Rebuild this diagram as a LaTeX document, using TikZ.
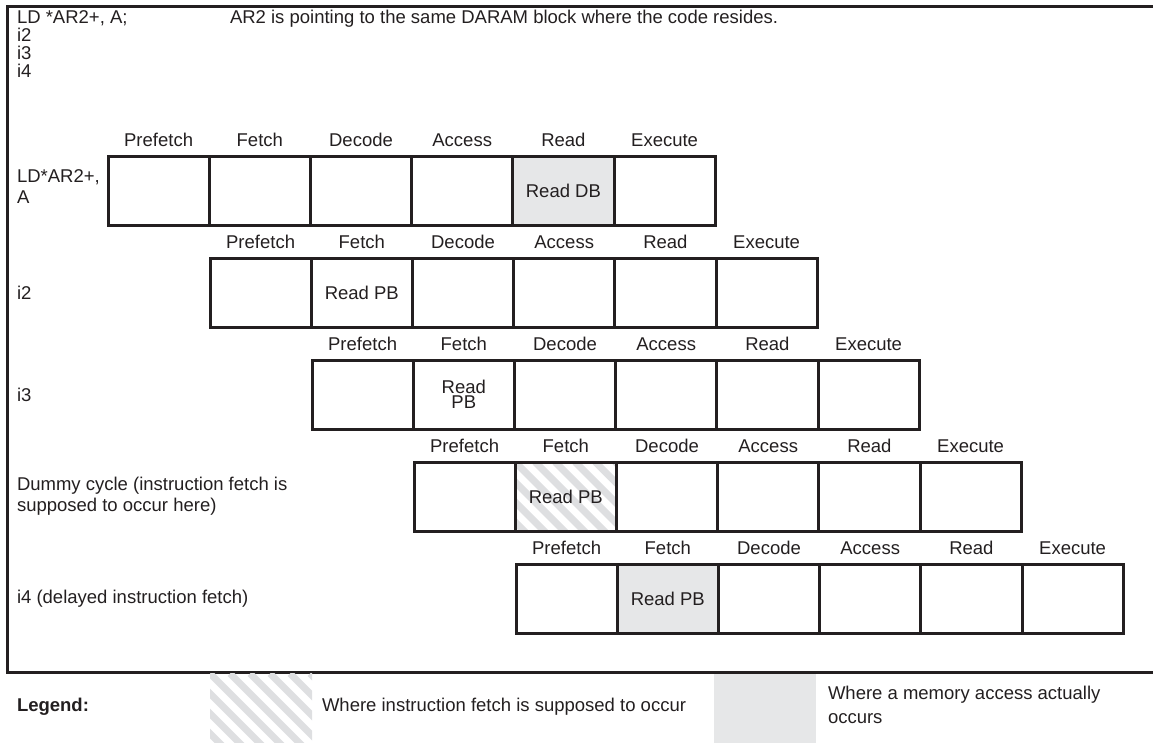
\documentclass[tikz,border=0pt]{standalone}
\usepackage{fontspec}
\setmainfont{Liberation Sans}
\usetikzlibrary{calc}
\definecolor{ink}{HTML}{231F20}
\definecolor{cellgray}{HTML}{E6E7E8}
\definecolor{hatchc}{HTML}{DEDFE1}
\begin{document}
\begin{tikzpicture}[x=1pt,y=-1pt,
  every node/.style={font=\fontsize{18.5}{21}\selectfont, text=ink, inner sep=0pt, outer sep=0pt},
  cell/.style={draw=ink, line width=3pt, minimum width=101.2pt, minimum height=69pt, anchor=north west, align=center},
  plaincell/.style={},
  tightcell/.style={font=\fontsize{18.5}{14.5}\selectfont},
  graycell/.style={fill=cellgray},
  hatchfill/.style={path picture={\foreach \q in {-140,-120,...,140}{\draw[hatchc, line width=7pt] ([xshift=\q pt]path picture bounding box.north west) -- ++(140,140);}}},
  hatchcell/.style={hatchfill},
  head/.style={anchor=base},
  lab/.style={anchor=west, align=left},
  frame/.style={draw=ink, line width=3pt}
]
\useasboundingbox (0,0) rectangle (1153,742);
% frame
\draw[frame] (1160,6) -- (7,6) -- (7,672) -- (1160,672);
% top text
\node[anchor=base west] (t1) at (17,23.5) {LD *AR2+, A;};
\node[anchor=base west] (t2) at (17,41.5) {i2};
\node[anchor=base west] (t3) at (17,59.5) {i3};
\node[anchor=base west] (t4) at (17,77.5) {i4};
\node[anchor=base west] (note) at (230,23.5) {AR2 is pointing to the same DARAM block where the code resides.};
% pipeline rows
\foreach \r/\s/\sty/\txt in {1/5/graycell/Read DB, 2/2/plaincell/Read PB, 3/2/tightcell/{Read\\PB}, 4/2/hatchcell/Read PB, 5/2/graycell/Read PB}{
  \foreach \k/\h in {1/Prefetch,2/Fetch,3/Decode,4/Access,5/Read,6/Execute}{
    \pgfmathsetmacro{\xx}{108+102*(\r-1)+101.2*(\k-1)}
    \pgfmathsetmacro{\yy}{156+102*(\r-1)}
    \ifnum\k=\s
      \node[cell,\sty] (c\r\k) at (\xx,\yy) {\txt};
    \else
      \node[cell] (c\r\k) at (\xx,\yy) {};
    \fi
    \node[head] (h\r\k) at ($(c\r\k.north)+(0,-9.5)$) {\h};
  }
}
% row labels
\node[lab] (l1) at (17,187) {LD*AR2+,\\A};
\node[lab] (l2) at (17,292.5) {i2};
\node[lab] (l3) at (17,394.5) {i3};
\node[lab] (l4) at (17,496.5) {Dummy cycle (instruction fetch is\\supposed to occur here)};
\node[lab] (l5) at (17,598.5) {i4 (delayed instruction fetch)};
% legend
\node[anchor=base west, font=\fontsize{18.5}{21}\selectfont\bfseries] (leg) at (17,711) {Legend:};
\node[hatchfill, minimum width=102pt, minimum height=69pt, anchor=north west] (lh) at (210,673.5) {};
\node[anchor=base west] (lht) at (322,711) {Where instruction fetch is supposed to occur};
\node[fill=cellgray, minimum width=102pt, minimum height=69pt, anchor=north west] (lg) at (714,673.5) {};
\node[anchor=west, align=left, font=\fontsize{18.5}{24.5}\selectfont] (lgt) at (828,705) {Where a memory access actually\\occurs};
\end{tikzpicture}
\end{document}
